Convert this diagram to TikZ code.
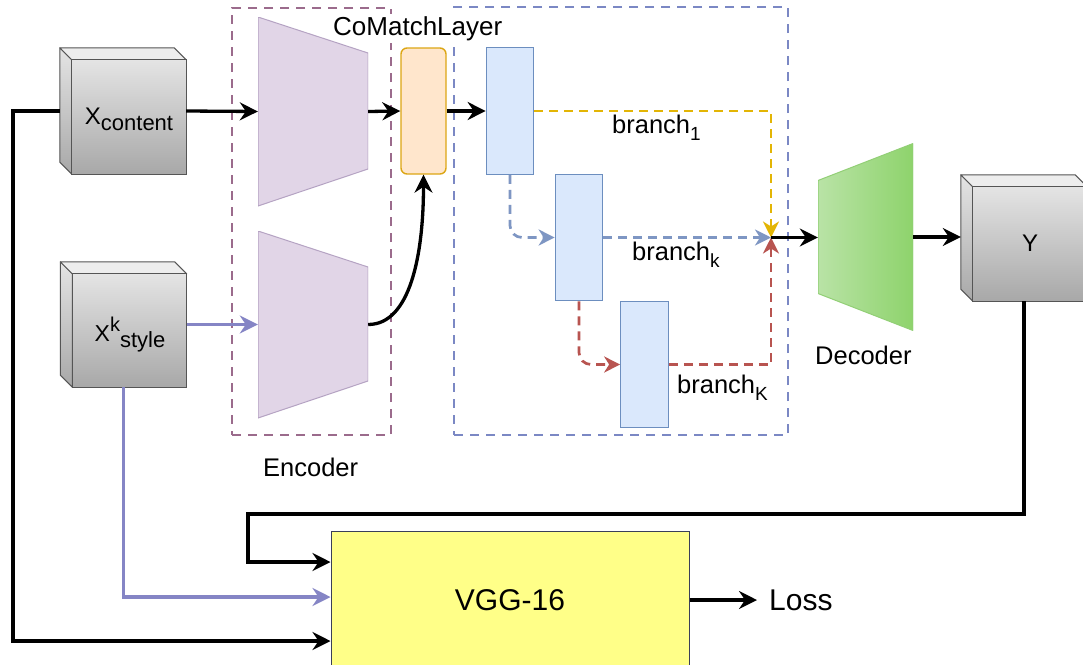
\documentclass[tikz,border=0pt]{standalone}
\usepackage{fontspec}
\setmainfont{Liberation Sans}
\usetikzlibrary{arrows.meta,calc}

\definecolor{encfill}{HTML}{E1D5E7}
\definecolor{encline}{HTML}{B5A3C3}
\definecolor{encdash}{HTML}{9B6B8C}
\definecolor{cmdash}{HTML}{7B88C4}
\definecolor{orfill}{HTML}{FFE6CC}
\definecolor{orline}{HTML}{DCA615}
\definecolor{blfill}{HTML}{DAE8FC}
\definecolor{blline}{HTML}{6C8EBF}
\definecolor{ylw}{HTML}{E3B505}
\definecolor{bk}{HTML}{7E96C3}
\definecolor{rd}{HTML}{B85450}
\definecolor{stl}{HTML}{8585C5}
\definecolor{decL}{HTML}{B9E3A6}
\definecolor{decR}{HTML}{8ED36C}
\definecolor{decline}{HTML}{92CF76}
\definecolor{vggfill}{HTML}{FFFF88}
\definecolor{vggline}{HTML}{3A3F58}
\definecolor{cubeln}{HTML}{555555}
\definecolor{cubeT}{HTML}{E4E4E4}
\definecolor{cubeB}{HTML}{A8A8A8}
\definecolor{cubeTop}{HTML}{EDEDED}

\newcommand\sbs[1]{\raisebox{-6pt}{\fontsize{22}{22}\selectfont #1}}
\newcommand\sps[1]{\raisebox{10pt}{\fontsize{20}{20}\selectfont #1}}
\newcommand\sbsb[1]{\raisebox{-7pt}{\fontsize{19}{19}\selectfont #1}}

\newcommand\drawcube[1]{%
  \shade[top color=cubeT, bottom color=cubeB] (#1.north west) -- ([xshift=12pt,yshift=-12pt]#1.north west) -- ([xshift=12pt]#1.south west) -- ([yshift=12pt]#1.south west) -- cycle;
  \draw[cubeln, line width=1pt, line join=round] (#1.north west) -- ([xshift=12pt,yshift=-12pt]#1.north west) -- ([xshift=12pt]#1.south west) -- ([yshift=12pt]#1.south west) -- cycle;
  \filldraw[cubeln, fill=cubeTop, line width=1pt, line join=round] (#1.north west) -- ([xshift=-12pt]#1.north east) -- ([yshift=-12pt]#1.north east) -- ([xshift=12pt,yshift=-12pt]#1.north west) -- cycle;
  \shade[top color=cubeT, bottom color=cubeB] ([xshift=12pt,yshift=-12pt]#1.north west) rectangle (#1.south east);
  \draw[cubeln, line width=1pt] ([xshift=12pt,yshift=-12pt]#1.north west) rectangle (#1.south east);
}

\tikzset{
  arr/.style={line width=3.3pt, -{Stealth[length=18pt,width=18pt,inset=6pt]}},
  darr/.style={line width=2.7pt, dash pattern=on 9pt off 6pt, -{Stealth[length=16pt,width=16pt,inset=5pt]}},
  grp/.style={draw, line width=2.5pt, dash pattern=on 9pt off 7pt, inner sep=0pt},
  blk/.style={draw=blline, fill=blfill, line width=1.2pt, minimum width=47.5pt, minimum height=126.5pt, inner sep=0pt},
  cubenode/.style={minimum width=126pt, minimum height=126pt, inner sep=0pt},
  lbl/.style={font=\fontsize{25.5}{25.5}\selectfont, inner sep=0pt},
  enctrap/.style={minimum width=110pt, minimum height=#1, inner sep=0pt,
    path picture={\filldraw[fill=encfill, draw=encline, line width=1pt]
      (path picture bounding box.north west) --
      ([yshift=-36pt]path picture bounding box.north east) --
      ([yshift=37pt]path picture bounding box.south east) --
      (path picture bounding box.south west) -- cycle;}},
  dectrap/.style={minimum width=95pt, minimum height=187pt, inner sep=0pt,
    path picture={\shade[left color=decL, right color=decR]
      ([yshift=-37pt]path picture bounding box.north west) --
      (path picture bounding box.north east) --
      (path picture bounding box.south east) --
      ([yshift=37pt]path picture bounding box.south west) -- cycle;
      \draw[decline, line width=1pt]
      ([yshift=-37pt]path picture bounding box.north west) --
      (path picture bounding box.north east) --
      (path picture bounding box.south east) --
      ([yshift=37pt]path picture bounding box.south west) -- cycle;}},
}

\begin{document}
\begin{tikzpicture}[x=1pt,y=-1pt]
\useasboundingbox[fill=white] (0,0) rectangle (1083,664);

% group boxes
\node[grp, draw=encdash, minimum width=159pt, minimum height=427pt] (encbox) at (311.5,221.5) {};
\node[grp, draw=cmdash, minimum width=334pt, minimum height=428pt] (cmbox) at (621,221) {};
\node[lbl, font=\fontsize{26}{26}\selectfont, anchor=base west, fill=white, inner sep=2.5pt] (cml) at (330.5,35) {CoMatchLayer};

% blocks
\node[enctrap=189pt] (enc1) at (313,111.5) {};
\node[enctrap=187pt] (enc2) at (313,324.5) {};
\node[draw=orline, fill=orfill, line width=1.4pt, rounded corners=6pt, minimum width=45pt, minimum height=126pt, inner sep=0pt] (cm) at (423.5,111) {};
\node[blk] (b1) at (510,111) {};
\node[blk] (b2) at (579,237.5) {};
\node[blk] (b3) at (644.5,364.5) {};
\node[dectrap] (dec) at (865.5,237) {};
\node[draw=vggline, fill=vggfill, line width=1pt, minimum width=358pt, minimum height=138pt, font=\fontsize{30}{30}\selectfont] (vgg) at (510,600) {VGG-16};
\node[anchor=west, inner xsep=12pt, inner ysep=0pt, font=\fontsize{30}{30}\selectfont] (loss) at (757,600) {Loss};

% cubes
\node[cubenode] (xc) at (123,111) {};
\node[cubenode, minimum height=125pt] (xs) at (123.5,324.5) {};
\node[cubenode] (yc) at (1024,238) {};
\drawcube{xc}
\drawcube{xs}
\drawcube{yc}
\node[anchor=base, inner sep=0pt, font=\fontsize{24}{24}\selectfont] (xct) at (129,124) {X\sbs{content}};
\node[anchor=base, inner sep=0pt, font=\fontsize{23}{23}\selectfont] (xst) at (130,341) {X\sps{k}\sbs{style}};
\node[inner sep=0pt, font=\fontsize{24}{24}\selectfont] (yt) at (1030,243) {Y};

% labels
\node[lbl, anchor=base west] (encl) at (263,476) {Encoder};
\node[lbl, anchor=base west] (decl) at (815,364) {Decoder};
\node[lbl, anchor=base west] (br1) at (612,133) {branch\sbsb{1}};
\node[lbl, anchor=base west] (brk) at (632,260) {branch\sbsb{k}};
\node[lbl, anchor=base west] (brK) at (677,393) {branch\sbsb{K}};

% connectors
\coordinate (jn) at (771,237.5);
\coordinate (ty) at (248,514);
\coordinate (tl) at (13,641);

\draw[arr] (xc.east) -- (enc1.west);
\draw[arr, color=stl] (xs.east) -- (enc2.west);
\draw[arr] (enc1.east) -- (cm.west);
\draw[arr] (enc2.east) .. controls ([xshift=42pt]enc2.east) and ([yshift=-80pt]cm.south) .. (cm.south);
\draw[arr] (cm.east) -- (b1.west);
\draw[darr, color=ylw] (b1.east) -| (jn);
\draw[darr, color=bk, rounded corners=12pt] (b1.south) |- (b2.west);
\draw[darr, color=bk] (b2.east) -- (jn);
\draw[darr, color=rd, rounded corners=12pt] (b2.south) |- (b3.west);
\draw[darr, color=rd] (b3.east) -| (jn);
\draw[arr] (jn) -- (jn -| dec.west);
\draw[arr] (dec.east) -- (dec.east -| yc.west);
\draw[arr] (yc.south) |- (ty) |- ([yshift=38pt]vgg.west);
\draw[arr] (xc.west) -| (tl) -- (tl -| vgg.west);
\draw[arr, color=stl] (xs.south) |- ([yshift=3pt]vgg.west);
\draw[arr] (vgg.east) -- (loss.west);
\end{tikzpicture}
\end{document}
